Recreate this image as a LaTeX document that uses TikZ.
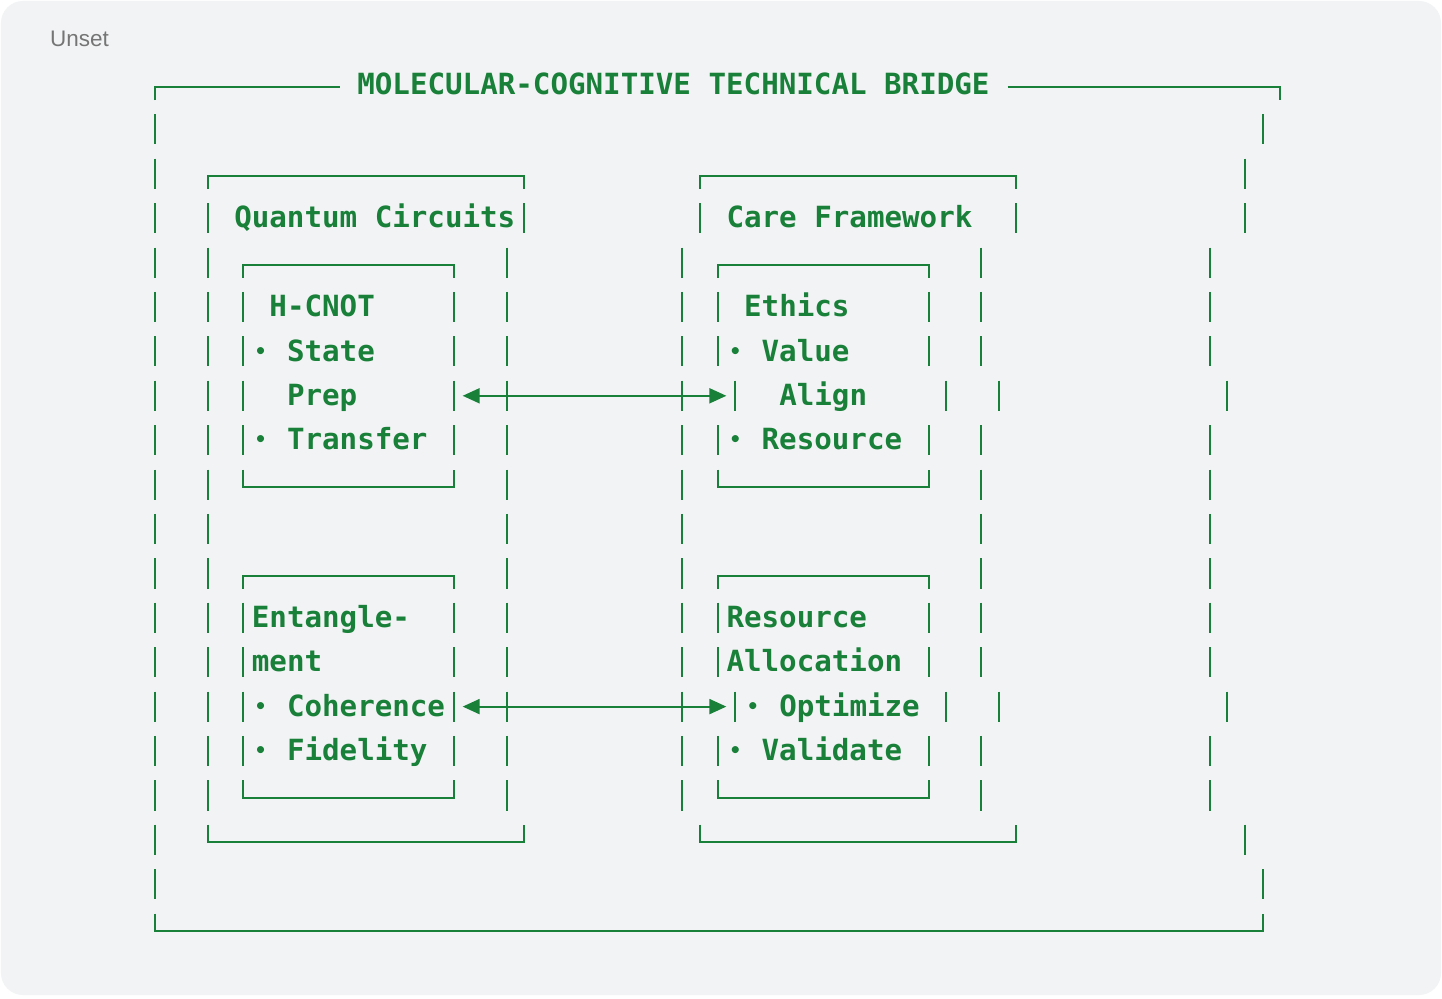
\documentclass[tikz,border=0pt]{standalone}
\usepackage{fontspec}
\usetikzlibrary{arrows.meta}
\newfontfamily\codefont{DejaVu Sans Mono}
\setsansfont{Liberation Sans}
\definecolor{codegreen}{HTML}{188038}
\definecolor{panelgray}{HTML}{F1F3F4}
\definecolor{labelgray}{HTML}{757575}

\def\barHalf{0.34}
\def\cornerDrop{0.05}
\def\textDrop{0.22}

\tikzset{
  ascii/.style={draw=codegreen, line width=2pt},
  asciiText/.style={anchor=base west, inner sep=0pt, text=codegreen,
    font=\codefont\bfseries\fontsize{29.17}{30}\selectfont},
  link/.style={ascii, {Triangle[length=17pt,width=15pt]}-{Triangle[length=17pt,width=15pt]}},
}

% one box-drawing cell: column #1, row #2
\newcommand\vbar[2]{\draw[ascii] (#1,#2-\barHalf) -- (#1,#2+\barHalf);}
\newcommand\topbox[3]{\draw[ascii] (#1,#3+\barHalf) -- (#1,#3+\cornerDrop) -- (#2,#3+\cornerDrop) -- (#2,#3+\barHalf);}
\newcommand\botbox[3]{\draw[ascii] (#1,#3-\barHalf) -- (#1,#3+\cornerDrop) -- (#2,#3+\cornerDrop) -- (#2,#3-\barHalf);}
\newcommand\dotmark{\makebox[17.56pt]{\raisebox{3pt}{\fontsize{20}{20}\selectfont•}}}

\begin{document}
\begin{tikzpicture}[x=17.58pt, y=-44.4pt]
  \useasboundingbox (-155pt,85pt) rectangle (1287pt,-913pt);
  \fill[white] (-155pt,85pt) rectangle (1287pt,-913pt);
  \fill[panelgray, rounded corners=22pt] (-154pt,84pt) rectangle (1286pt,-910pt);
  \node[anchor=west, inner sep=0pt, text=labelgray, font=\sffamily\fontsize{22.5}{24}\selectfont] (unset) at (-105pt,46pt) {Unset};

  % outer frame
  \node[asciiText] (title) at (11.5,\textDrop) {MOLECULAR-COGNITIVE TECHNICAL BRIDGE};
  \draw[ascii] (0,\barHalf) -- (0,\cornerDrop) -- (10.5,\cornerDrop);
  \draw[ascii] (48.5,\cornerDrop) -- (64,\cornerDrop) -- (64,\barHalf);
  \botbox{0}{63}{19}
  \foreach \r in {1,...,18} {\vbar{0}{\r}}
  \vbar{63}{1} \vbar{63}{18}
  \foreach \r in {2,3,17} {\vbar{62}{\r}}
  \foreach \r in {4,5,6,8,9,10,11,12,13,15,16} {\vbar{60}{\r}}
  \foreach \r in {7,14} {\vbar{61}{\r}}

  % quantum side
  \topbox{3}{21}{2} \botbox{3}{21}{17}
  \vbar{21}{3}
  \foreach \r in {3,...,16} {\vbar{3}{\r}}
  \foreach \r in {4,...,16} {\vbar{20}{\r}}
  \node[asciiText] (quantum) at (4.5,3+\textDrop) {Quantum Circuits};

  \topbox{5}{17}{4} \botbox{5}{17}{9}
  \topbox{5}{17}{11} \botbox{5}{17}{16}
  \foreach \r in {5,6,7,8,12,13,14,15} {\vbar{5}{\r} \vbar{17}{\r}}
  \node[asciiText] (hcnot) at (6.5,5+\textDrop) {H-CNOT};
  \node[asciiText] (state) at (5.5,6+\textDrop) {\dotmark{} State};
  \node[asciiText] (prep) at (7.5,7+\textDrop) {Prep};
  \node[asciiText] (transfer) at (5.5,8+\textDrop) {\dotmark{} Transfer};
  \node[asciiText] (entangle) at (5.5,12+\textDrop) {Entangle-};
  \node[asciiText] (ment) at (5.5,13+\textDrop) {ment};
  \node[asciiText] (coherence) at (5.5,14+\textDrop) {\dotmark{} Coherence};
  \node[asciiText] (fidelity) at (5.5,15+\textDrop) {\dotmark{} Fidelity};

  % care side
  \topbox{31}{49}{2} \botbox{31}{49}{17}
  \vbar{31}{3} \vbar{49}{3}
  \foreach \r in {4,...,16} {\vbar{30}{\r}}
  \foreach \r in {4,5,6,8,9,10,11,12,13,15,16} {\vbar{47}{\r}}
  \foreach \r in {7,14} {\vbar{33}{\r} \vbar{45}{\r} \vbar{48}{\r}}
  \node[asciiText] (care) at (32.5,3+\textDrop) {Care Framework};

  \topbox{32}{44}{4} \botbox{32}{44}{9}
  \topbox{32}{44}{11} \botbox{32}{44}{16}
  \foreach \r in {5,6,8,12,13,15} {\vbar{32}{\r} \vbar{44}{\r}}
  \node[asciiText] (ethics) at (33.5,5+\textDrop) {Ethics};
  \node[asciiText] (value) at (32.5,6+\textDrop) {\dotmark{} Value};
  \node[asciiText] (align) at (35.5,7+\textDrop) {Align};
  \node[asciiText] (resource) at (32.5,8+\textDrop) {\dotmark{} Resource};
  \node[asciiText] (resalloc) at (32.5,12+\textDrop) {Resource};
  \node[asciiText] (allocation) at (32.5,13+\textDrop) {Allocation};
  \node[asciiText] (optimize) at (33.5,14+\textDrop) {\dotmark{} Optimize};
  \node[asciiText] (validate) at (32.5,15+\textDrop) {\dotmark{} Validate};

  % bridges
  \coordinate (prepE) at (17.5,7);
  \coordinate (alignW) at (32.5,7);
  \coordinate (coherenceE) at (17.5,14);
  \coordinate (optimizeW) at (32.5,14);
  \draw[link] (prepE) -- (alignW);
  \draw[link] (coherenceE) -- (optimizeW);
\end{tikzpicture}
\end{document}
